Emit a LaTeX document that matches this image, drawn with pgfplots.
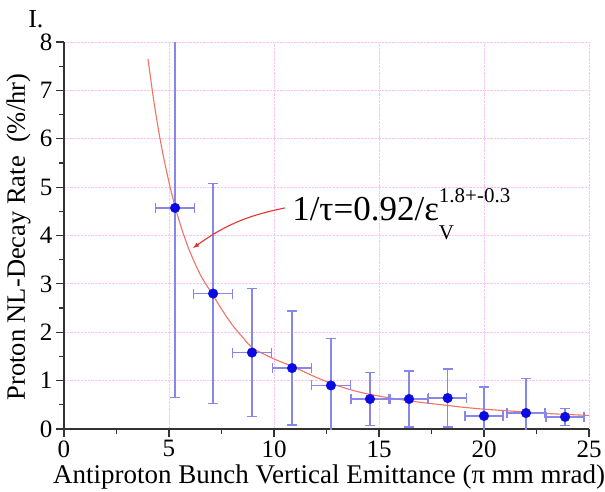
\documentclass[border=0pt]{standalone}
\usepackage{fontspec}
\setmainfont{Liberation Serif}
\usepackage{pgfplots}
\pgfplotsset{compat=1.18}
\usepackage{pgfplotstable}

\definecolor{errblue}{RGB}{135,135,235}
\definecolor{ptblue}{RGB}{10,10,225}
\definecolor{fitred}{RGB}{240,115,100}
\definecolor{gridpink}{RGB}{245,195,245}
\definecolor{arrowred}{RGB}{230,50,50}

% x  y  ex  ey
\pgfplotstableread{
x      y     ex    ey
5.29   4.57  0.92  3.92
7.10   2.80  0.92  2.27
8.95   1.58  0.92  1.32
10.86  1.26  0.92  1.18
12.71  0.90  0.92  0.97
14.57  0.62  0.90  0.55
16.43  0.62  0.90  0.58
18.27  0.64  0.90  0.60
20.00  0.27  0.90  0.60
22.00  0.33  0.90  0.72
23.86  0.25  0.90  0.18
}\decaydata

\begin{document}
\begin{tikzpicture}
\begin{axis}[
  scale only axis,
  width=525pt, height=387pt,
  xmin=0, xmax=25, ymin=0, ymax=8,
  xtick={0,5,10,15,20,25},
  ytick={0,1,...,8},
  minor x tick num=1,
  minor y tick num=1,
  axis lines*=left,
  axis line style={line width=1.6pt, black!80},
  tick align=outside,
  major tick length=8pt,
  minor tick length=5pt,
  tick style={line width=1.2pt, black!80},
  grid=major,
  major grid style={densely dotted, gridpink, line width=0.9pt},
  /pgf/number format/assume math mode=true,
  ticklabel style={font=\rmfamily\fontsize{25}{29}\selectfont},
  xlabel={Antiproton Bunch Vertical Emittance (π mm mrad)},
  ylabel={Proton NL-Decay Rate\ \ (\%/hr)},
  xlabel style={font=\rmfamily\fontsize{27}{31}\selectfont,
    at={(axis description cs:0.505,-0.142)}, anchor=base},
  ylabel style={font=\rmfamily\fontsize{26.5}{30}\selectfont,
    at={(axis description cs:-0.0743,0.496)}, anchor=base},
  clip mode=individual,
]
\addplot[fitred, line width=1.1pt, smooth] coordinates {
  (4,7.65)(4.25,6.86)(4.5,6.18)(4.75,5.6)(5,5.1)(5.25,4.66)(5.5,4.28)
  (5.75,3.95)(6,3.66)(6.5,3.18)(7,2.83)(7.5,2.48)(8,2.16)(8.5,1.9)(9,1.67)
  (10,1.45)(11,1.27)(12,1.07)(13,0.90)(14,0.77)(15,0.68)(16,0.61)
  (17,0.55)(18,0.50)(19,0.45)(20,0.41)(21,0.38)(22,0.35)(23,0.32)
  (24,0.30)(25,0.28)
};
\addplot[
  only marks, mark=*, mark size=4.8pt,
  mark options={ptblue, fill=ptblue},
  error bars/.cd,
    x dir=both, x explicit,
    y dir=both, y explicit,
    error bar style={errblue, line width=1.4pt},
    error mark options={errblue, line width=1.4pt, mark size=5pt, rotate=90},
] table[x=x, y=y, x error=ex, y error=ey] {\decaydata};

\draw[arrowred, line width=1.1pt, -latex]
  (axis cs:10.52,4.57) to[bend right=12] (axis cs:6.14,3.74);
\node[anchor=base west, inner sep=0pt, font=\rmfamily\fontsize{35}{40}\selectfont]
  at (axis cs:10.86,4.32)
  {1/τ=0.92/ε\rlap{\raisebox{-19pt}{\fontsize{21}{24}\selectfont V}}\raisebox{18pt}{\fontsize{21}{24}\selectfont 1.8+-0.3}};
\node[anchor=base west, inner sep=0pt, font=\rmfamily\fontsize{26}{30}\selectfont]
  at (axis cs:-1.71,8.31) {I.};
\end{axis}
\pgfresetboundingbox
\useasboundingbox ([shift={(-64pt,-62pt)}]current axis.south west)
  rectangle ([shift={(16pt,42pt)}]current axis.north east);
\end{tikzpicture}
\end{document}
